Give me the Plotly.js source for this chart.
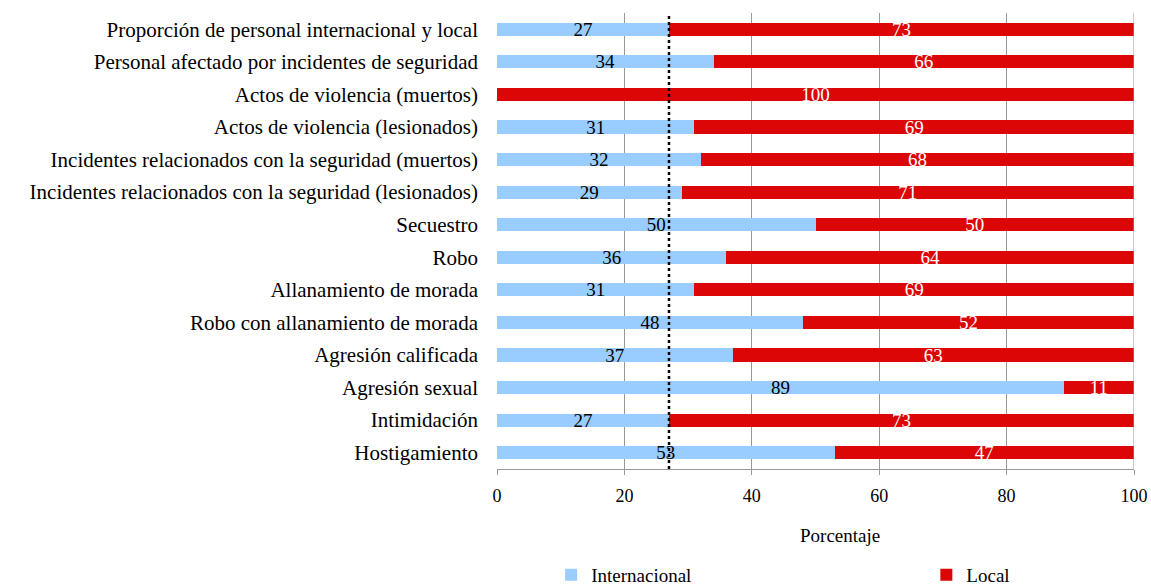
<!DOCTYPE html>
<html>
<head>
<meta charset="utf-8">
<script src="https://cdn.plot.ly/plotly-3.0.1.min.js"></script>
<style>html,body{margin:0;padding:0;background:#fff;}#chart{width:1151px;height:588px;}</style>
</head>
<body>
<div id="chart"></div>
<script>
const categories = [
  "Proporción de personal internacional y local",
  "Personal afectado por incidentes de seguridad",
  "Actos de violencia (muertos)",
  "Actos de violencia (lesionados)",
  "Incidentes relacionados con la seguridad (muertos)",
  "Incidentes relacionados con la seguridad (lesionados)",
  "Secuestro",
  "Robo",
  "Allanamiento de morada",
  "Robo con allanamiento de morada",
  "Agresión calificada",
  "Agresión sexual",
  "Intimidación",
  "Hostigamiento"
];
const internacional = [27, 34, 0, 31, 32, 29, 50, 36, 31, 48, 37, 89, 27, 53];
const local = [73, 66, 100, 69, 68, 71, 50, 64, 69, 52, 63, 11, 73, 47];
const referenceLine = 27;
const tickValues = [0, 20, 40, 60, 80, 100];

const font = "Liberation Serif, Times New Roman, serif";

const traces = [
  {
    type: "bar", orientation: "h", name: "Internacional", legend: "legend",
    y: categories, x: internacional,
    marker: {color: "#99CCFF"},
    text: internacional.map(String), textposition: "inside", insidetextanchor: "middle",
    textangle: 0,
    textfont: {family: font, size: 19, color: "#000"},
    constraintext: "none", cliponaxis: false, hoverinfo: "x+y+name"
  },
  {
    type: "bar", orientation: "h", name: "Local", legend: "legend2",
    y: categories, x: local,
    marker: {color: "#DD0606"},
    text: local.map(String), textposition: "inside", insidetextanchor: "middle",
    textangle: 0,
    textfont: {family: font, size: 19, color: "#fff"},
    constraintext: "none", cliponaxis: false, hoverinfo: "x+y+name"
  }
];

const legendBase = {
  orientation: "h", xanchor: "left", y: -0.232, yanchor: "middle",
  font: {family: font, size: 19, color: "#000"},
  itemclick: false, bgcolor: "rgba(0,0,0,0)"
};

const layout = {
  width: 1151, height: 588,
  barmode: "stack",
  bargap: 0.6,
  margin: {l: 497, r: 17, t: 13, b: 119, autoexpand: false},
  paper_bgcolor: "#fff", plot_bgcolor: "#fff",
  font: {family: font, size: 20, color: "#000"},
  showlegend: true,
  legend: Object.assign({}, legendBase, {x: 0.085}),
  legend2: Object.assign({}, legendBase, {x: 0.674}),
  xaxis: {
    range: [0, 100], tickvals: tickValues, ticktext: tickValues.map(String),
    showgrid: true, gridcolor: "#999", gridwidth: 1,
    showline: true, linecolor: "#999", linewidth: 1,
    ticks: "outside", ticklen: 5, tickcolor: "#999", ticklabelstandoff: 5,
    tickfont: {family: font, size: 18, color: "#000"},
    zeroline: false, fixedrange: true, automargin: false
  },
  yaxis: {
    autorange: "reversed", type: "category",
    showgrid: false, showline: false, zeroline: false,
    ticks: "", ticklabelstandoff: 18,
    tickfont: {family: font, size: 21, color: "#000"},
    fixedrange: true, automargin: false
  },
  shapes: [
    {type: "line", xref: "x", yref: "paper", x0: referenceLine, x1: referenceLine, y0: 0, y1: 1,
     line: {color: "#000", width: 2.5, dash: "dot"}},
    {type: "line", xref: "x", yref: "paper", x0: 100, x1: 100, y0: 0, y1: 1,
     line: {color: "#999", width: 1}}
  ],
  annotations: [
    {text: "Porcentaje", xref: "paper", yref: "paper", x: 0.539, y: -0.145,
     xanchor: "center", yanchor: "middle", showarrow: false,
     font: {family: font, size: 19, color: "#000"}}
  ]
};

Plotly.newPlot("chart", traces, layout, {displayModeBar: false});
</script>
</body>
</html>
